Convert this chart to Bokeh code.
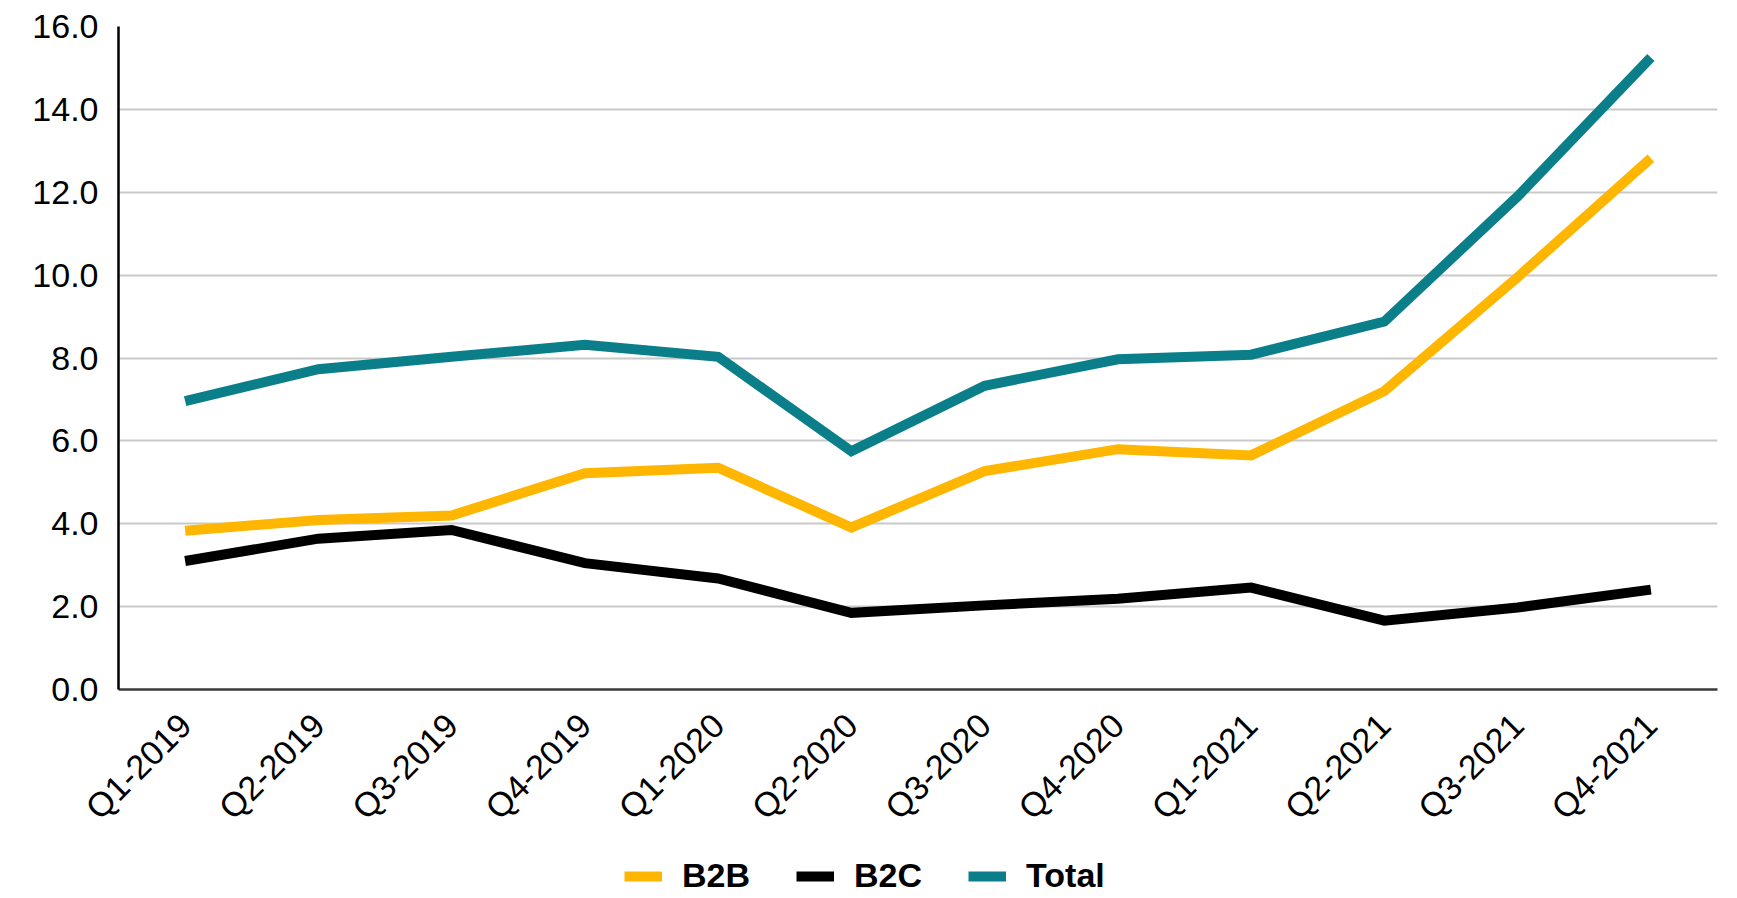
from bokeh.plotting import figure
from bokeh.layouts import column
from bokeh.models import FactorRange, Range1d, FixedTicker, PrintfTickFormatter, Legend, LegendItem
from bokeh.embed import file_html
from bokeh.resources import INLINE

quarters = ["Q1-2019", "Q2-2019", "Q3-2019", "Q4-2019", "Q1-2020", "Q2-2020",
            "Q3-2020", "Q4-2020", "Q1-2021", "Q2-2021", "Q3-2021", "Q4-2021"]
b2b = [3.83, 4.09, 4.20, 5.22, 5.35, 3.91, 5.27, 5.80, 5.65, 7.20, 9.95, 12.82]
b2c = [3.10, 3.64, 3.85, 3.05, 2.68, 1.85, 2.03, 2.19, 2.46, 1.66, 1.98, 2.41]
total = [6.96, 7.73, 8.03, 8.32, 8.03, 5.75, 7.33, 7.97, 8.08, 8.88, 11.90, 15.25]
y_ticks = [0, 2, 4, 6, 8, 10, 12, 14, 16]
series_names = ["B2B", "B2C", "Total"]

FONT = "Liberation Sans"
colors = {"B2B": "#FFB600", "B2C": "#000000", "Total": "#0B7F89"}

# ---- main chart ----
p = figure(width=1737, height=856, x_range=FactorRange(*quarters, range_padding=0),
           y_range=Range1d(0, 16), output_backend="svg", toolbar_location=None,
           min_border_left=118, min_border_top=26, min_border_right=20, min_border_bottom=167)
p.outline_line_color = None
p.background_fill_color = "white"
p.border_fill_color = "white"

for name, vals in zip(series_names, [b2b, b2c, total]):
    p.line(quarters, vals, line_color=colors[name], line_width=10,
           line_join="miter", line_cap="butt")

# y axis
p.yaxis.ticker = FixedTicker(ticks=y_ticks)
p.yaxis.formatter = PrintfTickFormatter(format="%.1f")
p.yaxis.major_tick_line_color = None
p.yaxis.minor_tick_line_color = None
p.yaxis.major_tick_out = 0
p.yaxis.major_tick_in = 0
p.yaxis.major_label_standoff = 20
p.yaxis.axis_line_color = "#000000"
p.yaxis.axis_line_width = 2.5
p.yaxis.major_label_text_font = FONT
p.yaxis.major_label_text_font_size = "34px"
p.yaxis.major_label_text_color = "#000000"

# x axis
p.xaxis.major_tick_line_color = None
p.xaxis.major_tick_out = 0
p.xaxis.major_tick_in = 0
p.xaxis.major_label_standoff = 30
p.xaxis.axis_line_color = "#3A3A3A"
p.xaxis.axis_line_width = 2.5
p.xaxis.major_label_orientation = 0.7854
p.xaxis.major_label_text_font = FONT
p.xaxis.major_label_text_font_size = "34px"
p.xaxis.major_label_text_color = "#000000"

p.xgrid.grid_line_color = None
p.ygrid.ticker = FixedTicker(ticks=y_ticks)
p.ygrid.grid_line_color = "#C9C9C9"
p.ygrid.grid_line_width = 2

# ---- legend strip below the chart ----
# The series are drawn again here, outside this strip's visible y range, only so the
# legend can show their line swatches.
leg = figure(width=1737, height=42, x_range=FactorRange(*quarters, range_padding=0),
             y_range=Range1d(-2, -1),
             output_backend="svg", toolbar_location=None,
             x_axis_location=None, y_axis_location=None,
             min_border_left=0, min_border_right=0, min_border_top=0, min_border_bottom=0)
leg.outline_line_color = None
leg.xgrid.visible = False
leg.ygrid.visible = False
leg.background_fill_color = "white"
leg.border_fill_color = "white"

items = []
for name, vals in zip(series_names, [b2b, b2c, total]):
    r = leg.line(quarters, vals, line_color=colors[name], line_width=10, line_cap="butt")
    items.append(LegendItem(label=name, renderers=[r]))

legend = Legend(items=items, orientation="horizontal", location=(506, 3),
                label_text_font=FONT, label_text_font_size="34px", label_text_font_style="bold",
                label_text_color="#000000",
                glyph_width=38, glyph_height=36, label_height=36, label_standoff=20, spacing=46,
                padding=0, margin=0, border_line_color=None, background_fill_alpha=0)
leg.add_layout(legend, "center")

layout = column(p, leg, spacing=0)
open("out.html", "w").write(file_html(layout, INLINE))
